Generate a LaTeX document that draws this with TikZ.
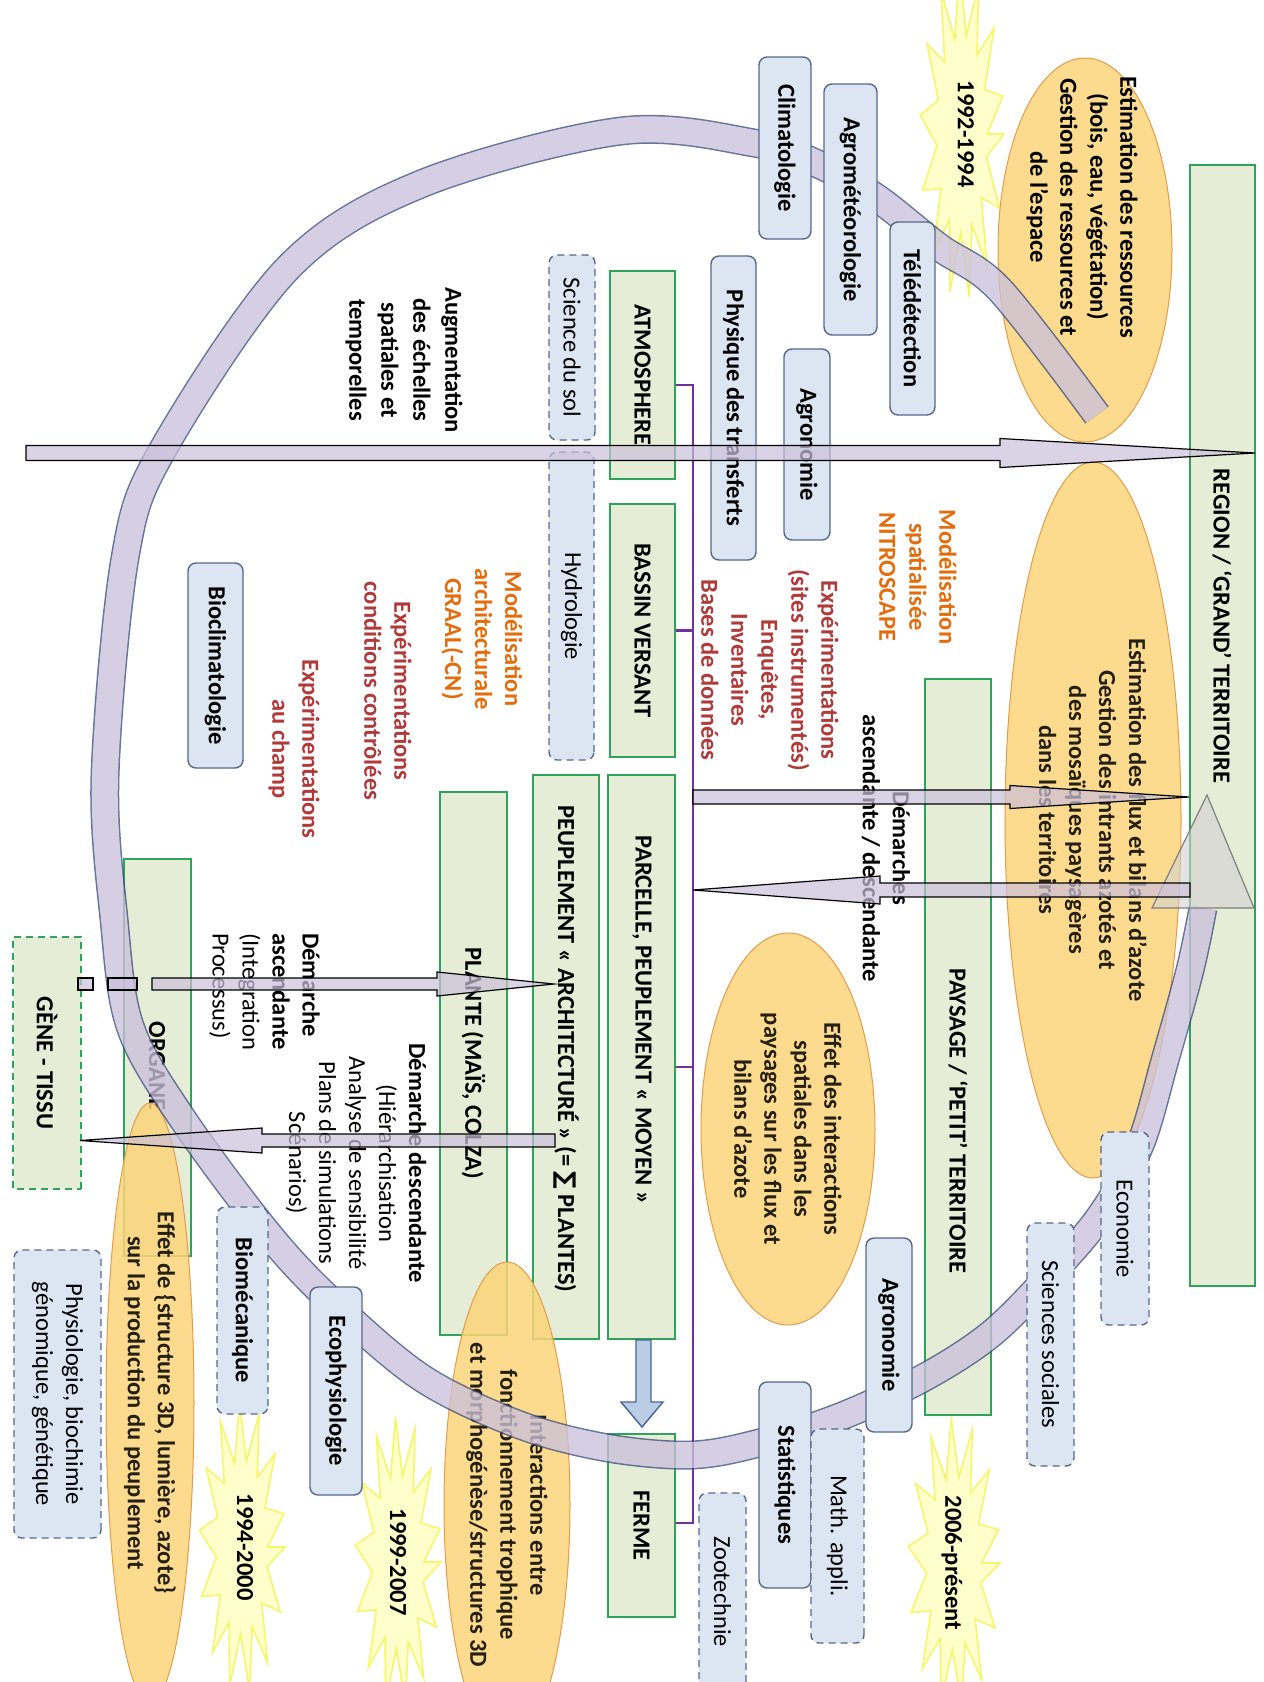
\documentclass[tikz,border=0pt]{standalone}
\usepackage{fontspec}
\setmainfont{Carlito}
\newfontfamily\dejavu{DejaVu Sans}
\usetikzlibrary{shapes.geometric}

\definecolor{discfill}{HTML}{DCE6F2}
\definecolor{discline}{HTML}{56688A}
\definecolor{greenfill}{HTML}{E6EDD6}
\definecolor{greenline}{HTML}{2EA35A}
\definecolor{ellfill}{HTML}{FCD57A}
\definecolor{ellline}{HTML}{E39C4A}
\definecolor{ringfill}{HTML}{CBC0DB}
\definecolor{ringline}{HTML}{3C4E80}
\definecolor{orangetxt}{HTML}{E46C0A}
\definecolor{redtxt}{HTML}{B03A3A}
\definecolor{spinecol}{HTML}{7030A0}
\definecolor{starfill}{HTML}{FFFFCC}
\definecolor{starline}{HTML}{F6F66A}
\definecolor{downfill}{HTML}{B9CDE5}
\definecolor{downline}{HTML}{4A6490}

\newcommand{\basefont}{\fontsize{24.5}{30}\selectfont}

% horizontal block arrow: [style]{x start}{x head base}{x tip}{y}{shaft half}{head half}
\newcommand{\harrow}[7][]{%
  \draw[#1] (#2,{#5-#6}) -- (#3,{#5-#6}) -- (#3,{#5-#7}) -- (#4,#5)
    -- (#3,{#5+#7}) -- (#3,{#5+#6}) -- (#2,{#5+#6}) -- cycle;}

% starburst: {cx}{cy}{half width}{half length}
\newcommand{\burst}[4]{%
  \begin{scope}[shift={(#1,#2)}, xscale=#3, yscale=#4]
    \draw[burstline] (0:1) \foreach \k in {1,...,27}{ -- ({\k*13.333}:{1-0.4*mod(\k,2)}) } -- cycle;
  \end{scope}}

\begin{document}
\begin{tikzpicture}[x=1pt, y=-1pt,
  every node/.style={font=\basefont},
  vtext/.style={rotate=-90, inner sep=0pt, align=center},
  boldtext/.style={vtext, font=\basefont\bfseries},
  level/.style={boldtext, draw=greenline, fill=greenfill, line width=1.4pt},
  leveldash/.style={level, dash pattern=on 7pt off 5pt},
  disc/.style={boldtext, draw=discline, fill=discfill, rounded corners=8pt, line width=1.4pt},
  discdash/.style={vtext, draw=discline, fill=discfill, rounded corners=8pt, line width=1.4pt, dash pattern=on 7pt off 5pt},
  oval/.style={boldtext, ellipse, draw=ellline, fill=ellfill, line width=1pt, fill opacity=0.85},
  burstline/.style={draw=starline, fill=starfill, line width=1.6pt, line join=miter},
  orangenote/.style={boldtext, text=orangetxt},
  rednote/.style={boldtext, text=redtxt},
  blockarrow/.style={draw=black, fill=ringfill, line width=1.2pt, fill opacity=0.7},
  spine/.style={draw=spinecol, line width=2.8pt},
  ringedge/.style={draw=ringline, line width=29pt},
  ringcore/.style={draw=ringfill, line width=26pt}
]
\useasboundingbox (0,0) rectangle (1264,1682);
\clip (0,0) rectangle (1264,1682);

% time-period bursts
\burst{962}{134}{42}{165}
\burst{242}{1547}{43}{145}
\burst{398}{1562}{43}{145}
\burst{954}{1563}{46}{145}

% organisation levels
\node[level, minimum width=1121, minimum height=65] (region) at (1222.5,725.5) {};
\node[level, minimum width=736, minimum height=66] (paysage) at (958,1047) {};
\node[level, minimum width=208, minimum height=65] (atm) at (642.5,375) {ATMOSPHERE};
\node[level, minimum width=253, minimum height=65] (bassin) at (642.5,630.5) {BASSIN VERSANT};
\node[level, minimum width=564, minimum height=67] (parcelle) at (641.5,1057) {};
\node[level, minimum width=564, minimum height=66] (peuparch) at (566,1057) {};
\node[level, minimum width=543, minimum height=67] (plante) at (473.5,1063.5) {PLANTE (MAÏS, COLZA)};
\node[level, minimum width=397, minimum height=67] (organe) at (157.5,1057.5) {};
\node[leveldash, minimum width=252, minimum height=68] (gene) at (47,1063) {GÈNE - TISSU};
\node[level, minimum width=183, minimum height=67] (ferme) at (641.5,1525.5) {FERME};

\node[boldtext] (regiontxt) at (1222,626) {REGION / ‘GRAND’ TERRITOIRE};
\node[boldtext] (paysagetxt) at (958,1121) {PAYSAGE / ‘PETIT’ TERRITOIRE};
\node[boldtext] (parcelletxt) at (642,1020) {PARCELLE, PEUPLEMENT « MOYEN »};
\node[boldtext] (peuparchtxt) at (566,1049) {PEUPLEMENT « ARCHITECTURÉ » (= {\dejavu ∑} PLANTES)};
\node[boldtext] (organetxt) at (157,1066) {ORGANE};

% links between levels
\coordinate (spinetop) at (693,385);
\coordinate (spinebot) at (693,1523);
\draw[spine] (atm.north |- spinetop) -- (spinetop) -- (spinebot) -- (ferme.north |- spinebot);
\draw[spine] (bassin.north) -- (bassin.north -| spinetop);
\draw[spine] ([yshift=-10pt]parcelle.north) -- ([yshift=-10pt]parcelle.north -| spinetop);

% questions addressed
\node[oval, minimum width=384, minimum height=174] (ressources) at (1085,250) {};
\node[boldtext] (ressourcestxt) at (1082,207) {Estimation des ressources\\(bois, eau, végétation)\\Gestion des ressources et\\de l’espace};
\node[oval, minimum width=716, minimum height=176] (flux) at (1093,820) {Estimation des flux et bilans d’azote\\Gestion des intrants azotés et\\des mosaïques paysagères\\dans les territoires};
\node[oval, minimum width=392, minimum height=174] (effet) at (788,1129) {Effet des interactions\\spatiales dans les\\paysages sur les flux et\\bilans d’azote};
\node[oval, minimum width=486, minimum height=126] (trophique) at (507,1505) {Interactions entre\\fonctionnement trophique\\et morphogénèse/structures 3D};
\node[oval, minimum width=600, minimum height=88] (struct) at (150,1403) {Effet de \{structure 3D, lumière, azote\}\\sur la production du peuplement};

% the trajectory ring
\begin{scope}[transparency group, opacity=0.78]
  \draw[ringedge] plot[smooth, tension=0.55] coordinates {(1097,415) (1000,290) (939,247) (877,198) (820,165) (754,143) (621,131) (421,184) (288,268) (162,451) (125,558) (105,776) (114,919) (130,1026) (180,1115) (265,1230) (330,1300) (422,1378) (520,1425) (608,1448) (691,1455) (759,1443) (842,1416) (925,1377) (991,1334) (1050,1275) (1101,1215) (1140,1145) (1165,1060) (1190,970) (1203,908)};
  \draw[ringcore] plot[smooth, tension=0.55] coordinates {(1097,415) (1000,290) (939,247) (877,198) (820,165) (754,143) (621,131) (421,184) (288,268) (162,451) (125,558) (105,776) (114,919) (130,1026) (180,1115) (265,1230) (330,1300) (422,1378) (520,1425) (608,1448) (691,1455) (759,1443) (842,1416) (925,1377) (991,1334) (1050,1275) (1101,1215) (1140,1145) (1165,1060) (1190,970) (1203,908)};
\end{scope}
\draw[draw=gray, fill=gray!35, fill opacity=0.6, line width=1.2pt] (1152,908) -- (1254,908) -- (1207,795) -- cycle;

% disciplines
\node[disc, minimum width=182, minimum height=52] (clim) at (785,148) {Climatologie};
\node[disc, minimum width=251, minimum height=53] (agromet) at (850.5,209.5) {Agrométéorologie};
\node[disc, minimum width=193, minimum height=45] (teled) at (912.5,318.5) {Télédétection};
\node[disc, minimum width=304, minimum height=45] (phys) at (733.5,408) {Physique des transferts};
\node[disc, minimum width=191, minimum height=46] (agro1) at (807,444.5) {Agronomie};
\node[disc, minimum width=205, minimum height=55] (biocl) at (215.5,665.5) {Bioclimatologie};
\node[disc, minimum width=208, minimum height=52] (ecoph) at (336,1391) {Ecophysiologie};
\node[disc, minimum width=194, minimum height=46] (agro2) at (889,1335) {Agronomie};
\node[disc, minimum width=206, minimum height=52] (stat) at (785,1485) {Statistiques};

\node[discdash, minimum width=185, minimum height=46] (sol) at (572,347.5) {Science du sol};
\node[discdash, minimum width=308, minimum height=45] (hydro) at (571.5,606) {Hydrologie};
\node[discdash, font=\basefont\bfseries, minimum width=207, minimum height=51] (biomeca) at (242.5,1310.5) {Biomécanique};
\node[discdash, minimum width=288, minimum height=87] (physio) at (57.5,1394) {Physiologie, biochimie\\génomique, génétique};
\node[discdash, minimum width=197, minimum height=47] (zoot) at (722.5,1591.5) {Zootechnie};
\node[discdash, minimum width=214, minimum height=53] (math) at (837.5,1536) {Math. appli.};
\node[discdash, minimum width=243, minimum height=47] (socio) at (1050.5,1344.5) {Sciences sociales};
\node[discdash, minimum width=193, minimum height=48] (eco) at (1125,1228.5) {Economie};

% methods and approaches
\node[boldtext] (augm) at (404,360) {Augmentation\\[2pt]des échelles\\[2pt]spatiales et\\[2pt]temporelles};
\node[orangenote] (nitro) at (918,577) {Modélisation\\spatialisée\\NITROSCAPE};
\node[rednote] (expsites) at (770,670) {Expérimentations\\(sites instrumentés)\\Enquêtes,\\Inventaires\\Bases de données};
\node[boldtext] (demarches) at (886,848) {Démarches\\ascendante / descendante};
\node[orangenote] (graal) at (482,639) {Modélisation\\architecturale\\GRAAL(-CN)};
\node[rednote] (expcond) at (388,691) {Expérimentations\\conditions contrôlées};
\node[rednote] (expchamp) at (294,749) {Expérimentations\\au champ};
\node[vtext, align=left, anchor=north west] (demasc) at (320,933) {\textbf{Démarche}\\\textbf{ascendante}\\(Integration\\Processus)};
\node[vtext] (demdesc) at (356,1163) {\textbf{Démarche descendante}\\(Hiérarchisation\\Analyse de sensibilité\\Plans de simulations\\Scénarios)};

\node[boldtext] (t1) at (966,134) {1992-1994};
\node[boldtext] (t2) at (245,1547) {1994-2000};
\node[boldtext] (t3) at (398,1562) {1999-2007};
\node[boldtext] (t4) at (952,1563) {2006-présent};

% block arrows
\harrow[blockarrow]{26}{1000}{1255}{453}{7.5}{14.5}
\harrow[blockarrow]{693}{1010}{1189}{797}{7}{11.5}
\harrow[blockarrow]{1190}{880}{693}{890}{7}{14}
\draw[blockarrow] (78,978) rectangle (93,990);
\draw[blockarrow] (108,978) rectangle (137,990);
\harrow[blockarrow]{152}{437}{554}{984}{6}{12}
\harrow[blockarrow]{555}{262}{80}{1140.5}{6.5}{12.5}
\draw[draw=downline, fill=downfill, line width=1.4pt] (636,1340) -- (651,1340) -- (651,1402) -- (663,1402) -- (642,1427) -- (621,1402) -- (636,1402) -- cycle;
\end{tikzpicture}
\end{document}
